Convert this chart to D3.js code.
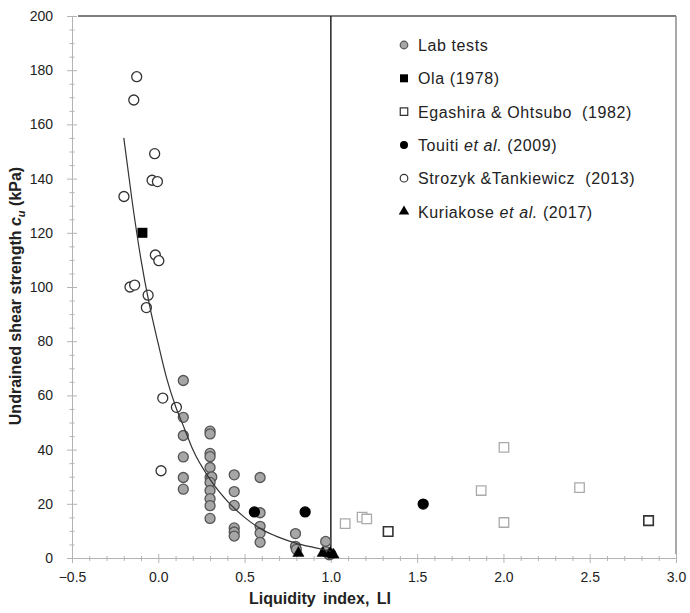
<!DOCTYPE html>
<html>
<head>
<meta charset="utf-8">
<script src="https://cdn.jsdelivr.net/npm/d3@7"></script>
<style>
  body { margin: 0; background: #fff; }
  svg { font-family: "Liberation Sans", Arial, sans-serif; }
</style>
</head>
<body>
<div id="chart-area"></div>
<script>
// data: [liquidity index, cu (kPa)]
const labTests = [
  [0.145, 65.5], [0.145, 51.9], [0.145, 45.2], [0.145, 37.3], [0.145, 29.7], [0.145, 25.4],
  [0.30, 46.8], [0.30, 45.8], [0.30, 38.6], [0.30, 37.4], [0.30, 33.4], [0.30, 29.7],
  [0.31, 29.9], [0.30, 27.9], [0.30, 24.9], [0.30, 21.9], [0.30, 19.3], [0.30, 14.6],
  [0.44, 30.7], [0.44, 24.5], [0.44, 19.4], [0.44, 11.1], [0.44, 9.6], [0.44, 8.1],
  [0.59, 29.7], [0.59, 16.7], [0.59, 11.7], [0.59, 9.2], [0.59, 5.8],
  [0.795, 9.0], [0.795, 4.3], [0.80, 3.2],
  [0.97, 6.1], [0.97, 2.4], [0.99, 1.2], [1.0, 1.5]
];
const ola = [[-0.092, 120]];
const egashira = [[1.083, 12.7], [1.181, 15.1], [1.208, 14.4], [1.871, 24.9], [2.003, 40.8], [2.003, 13.1], [2.441, 26]];
const egashiraDark = [[1.332, 9.8], [2.841, 13.8]];
const touiti = [[0.557, 17], [0.851, 17], [1.535, 19.9]];
const strozyk = [
  [-0.125, 177.6], [-0.142, 169], [-0.021, 149.2], [-0.036, 139.4], [-0.005, 138.9],
  [-0.199, 133.4], [-0.017, 111.8], [0.003, 109.7], [-0.164, 100], [-0.137, 100.7],
  [-0.059, 97], [-0.069, 92.4], [0.026, 59], [0.105, 55.6], [0.016, 32.2]
];
const kuriakose = [[0.812, 1.8], [0.953, 1.8], [0.996, 1.8], [1.015, 1.2]];
// fitted trend line
const trend = [
  [-0.2, 155], [-0.15, 131], [-0.1, 110], [-0.05, 93], [0, 79], [0.05, 66], [0.1, 56],
  [0.15, 48], [0.2, 40], [0.3, 29], [0.4, 21], [0.5, 15], [0.6, 10.5], [0.7, 7.6],
  [0.8, 5.4], [0.9, 3.9], [1.0, 2.5]
];
const xTicks = [-0.5, 0, 0.5, 1.0, 1.5, 2.0, 2.5, 3.0];
const yTicks = [0, 20, 40, 60, 80, 100, 120, 140, 160, 180, 200];

const W = 690, H = 613;
const plotLeft = 72, plotRight = 676, plotTop = 16, plotBottom = 558;

const svg = d3.select("#chart-area").append("svg")
  .attr("width", W)
  .attr("height", H);

const x = d3.scaleLinear().domain([-0.5, 3.0]).range([plotLeft, plotRight]);
const y = d3.scaleLinear().domain([0, 200]).range([plotBottom, plotTop]);

// minor ticks
const xMinor = d3.range(-5, 31).map(d => d / 10).filter(d => !xTicks.some(t => Math.abs(t - d) < 1e-9));
const yMinor = d3.range(0, 201, 5).filter(d => d % 20 !== 0);

const axisColor = "#b4b4b4";

// y axis
let gy = svg.append("g")
  .attr("transform", `translate(${plotLeft},0)`)
  .call(d3.axisLeft(y).tickValues(yTicks).tickSize(5).tickSizeOuter(0).tickPadding(14));
gy.select(".domain").attr("stroke", axisColor);
gy.selectAll(".tick line").attr("x1", 5).attr("x2", -5).attr("stroke", axisColor);
gy.selectAll(".tick text").attr("font-size", 14).attr("fill", "#222");
gy.append("g").selectAll("line")
  .data(yMinor)
  .enter()
  .append("line")
  .attr("x1", -2.5).attr("x2", 2.5)
  .attr("y1", d => y(d) + 0.5).attr("y2", d => y(d) + 0.5)
  .attr("stroke", axisColor);

// x axis
let gx = svg.append("g")
  .attr("transform", `translate(0,${plotBottom})`)
  .call(d3.axisBottom(x).tickValues(xTicks).tickFormat(d3.format(".1f")).tickSize(5).tickSizeOuter(0).tickPadding(9));
gx.select(".domain").attr("stroke", axisColor);
gx.selectAll(".tick line").attr("y1", -4).attr("y2", 5).attr("stroke", axisColor);
gx.selectAll(".tick text").attr("font-size", 14).attr("fill", "#222");
gx.append("g").selectAll("line")
  .data(xMinor)
  .enter()
  .append("line")
  .attr("y1", -2).attr("y2", 3)
  .attr("x1", d => x(d) + 0.5).attr("x2", d => x(d) + 0.5)
  .attr("stroke", axisColor);

// frame: top and right
svg.append("line")
  .attr("x1", plotLeft + 6).attr("x2", plotRight)
  .attr("y1", plotTop).attr("y2", plotTop)
  .attr("stroke", "#555").attr("stroke-width", 1.5);
svg.append("line")
  .attr("x1", plotRight).attr("x2", plotRight)
  .attr("y1", plotTop).attr("y2", plotBottom - 4)
  .attr("stroke", "#8c8c8c").attr("stroke-width", 1.5);

// LI = 1 line
svg.append("line")
  .attr("x1", x(1)).attr("x2", x(1))
  .attr("y1", plotTop).attr("y2", plotBottom)
  .attr("stroke", "#222").attr("stroke-width", 1.5);

// axis titles
svg.append("text")
  .attr("x", 320).attr("y", 604)
  .attr("text-anchor", "middle")
  .attr("font-size", 16).attr("font-weight", "bold").attr("fill", "#222")
  .attr("word-spacing", 3)
  .text("Liquidity index, LI");

let yt = svg.append("text")
  .attr("transform", `translate(21, 296) rotate(-90)`)
  .attr("text-anchor", "middle")
  .attr("font-size", 16).attr("font-weight", "bold").attr("fill", "#222");
yt.append("tspan").text("Undrained shear strength ");
yt.append("tspan").attr("font-style", "italic").text("c");
yt.append("tspan").attr("font-size", 11).attr("font-style", "italic").attr("dy", 4).text("u");
yt.append("tspan").attr("dy", -4).text(" (kPa)");

// markers
const plot = svg.append("g");

function circles(data, r, fill, stroke) {
  plot.append("g").selectAll("circle")
    .data(data)
    .enter()
    .append("circle")
    .attr("cx", d => x(d[0]))
    .attr("cy", d => y(d[1]))
    .attr("r", r)
    .attr("fill", fill)
    .attr("stroke", stroke)
    .attr("stroke-width", 1.3);
}
function symbols(data, type, size, fill, stroke, sw) {
  plot.append("g").selectAll("path")
    .data(data)
    .enter()
    .append("path")
    .attr("d", d3.symbol().type(type).size(size))
    .attr("transform", d => `translate(${x(d[0])},${y(d[1])})`)
    .attr("fill", fill)
    .attr("stroke", stroke)
    .attr("stroke-width", sw);
}

circles(strozyk, 5, "#fff", "#333");
circles(labTests, 5, "#a6a6a6", "#555");
symbols(egashira, d3.symbolSquare, 90, "#fff", "#aaa", 1.3);
symbols(egashiraDark, d3.symbolSquare, 90, "#fff", "#333", 1.6);
symbols(ola, d3.symbolSquare, 100, "#000", "none", 0);
circles(touiti, 5, "#000", "#000");
symbols(kuriakose, d3.symbolTriangle, 55, "#000", "#000", 0.5);

// trend line
svg.append("path")
  .datum(trend)
  .attr("d", d3.line().x(d => x(d[0])).y(d => y(d[1])).curve(d3.curveMonotoneX))
  .attr("fill", "none")
  .attr("stroke", "#333")
  .attr("stroke-width", 1.2);

// legend
const legendItems = [
  { key: "lab", parts: [["Lab tests", false]] },
  { key: "ola", parts: [["Ola (1978)", false]] },
  { key: "ega", parts: [["Egashira & Ohtsubo  (1982)", false]] },
  { key: "tou", parts: [["Touiti ", false], ["et al.", true], [" (2009)", false]] },
  { key: "str", parts: [["Strozyk &Tankiewicz  (2013)", false]] },
  { key: "kur", parts: [["Kuriakose ", false], ["et al.", true], [" (2017)", false]] }
];
const lg = svg.append("g");
legendItems.forEach(function (item, i) {
  let cy = 45 + i * 33.3;
  let mx = 404;
  if (item.key === "lab") {
    lg.append("circle").attr("cx", mx).attr("cy", cy).attr("r", 3.8)
      .attr("fill", "#a6a6a6").attr("stroke", "#555").attr("stroke-width", 1.2);
  } else if (item.key === "ola") {
    lg.append("path").attr("d", d3.symbol().type(d3.symbolSquare).size(64))
      .attr("transform", `translate(${mx},${cy})`).attr("fill", "#000");
  } else if (item.key === "ega") {
    lg.append("path").attr("d", d3.symbol().type(d3.symbolSquare).size(56))
      .attr("transform", `translate(${mx},${cy})`).attr("fill", "#fff")
      .attr("stroke", "#333").attr("stroke-width", 1.2);
  } else if (item.key === "tou") {
    lg.append("circle").attr("cx", mx).attr("cy", cy).attr("r", 4)
      .attr("fill", "#000");
  } else if (item.key === "str") {
    lg.append("circle").attr("cx", mx).attr("cy", cy).attr("r", 3.8)
      .attr("fill", "#fff").attr("stroke", "#333").attr("stroke-width", 1.2);
  } else {
    lg.append("path").attr("d", d3.symbol().type(d3.symbolTriangle).size(48))
      .attr("transform", `translate(${mx},${cy})`).attr("fill", "#000");
  }
  let t = lg.append("text")
    .attr("x", 418).attr("y", cy + 6)
    .attr("font-size", 16).attr("fill", "#222")
    .attr("letter-spacing", 0.6)
    .style("white-space", "pre");
  item.parts.forEach(function (p) {
    t.append("tspan").attr("font-style", p[1] ? "italic" : "normal").text(p[0]);
  });
});
</script>
</body>
</html>
